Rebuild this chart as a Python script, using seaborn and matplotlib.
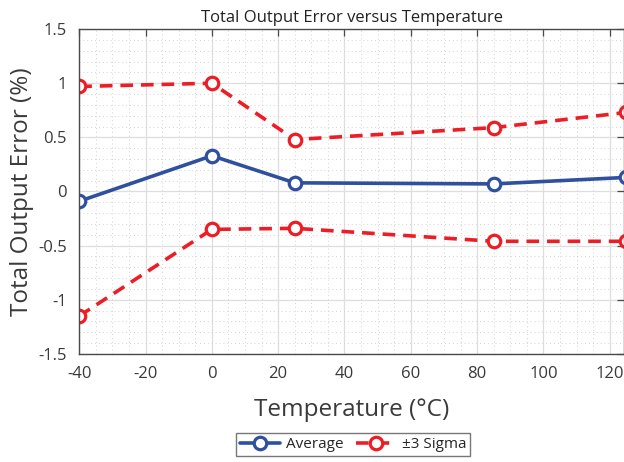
import matplotlib
matplotlib.use("Agg")
import matplotlib.pyplot as plt
import seaborn as sns
from matplotlib.ticker import MultipleLocator

# Data
temperature = [-40, 0, 25, 85, 125]
average = [-0.09, 0.33, 0.08, 0.07, 0.13]
sigma_upper = [0.97, 1.00, 0.48, 0.59, 0.73]
sigma_lower = [-1.15, -0.35, -0.34, -0.46, -0.46]

BLUE = "#2f4f9f"
RED = "#ee1d25"
TEXT = "#3a3a3a"

sns.set_theme(style="white")
plt.rcParams["font.family"] = ["Open Sans", "DejaVu Sans"]
plt.rcParams["axes.unicode_minus"] = False

fig = plt.figure(figsize=(6.24, 4.62), dpi=100)
ax = fig.add_axes([0.127, 0.234, 0.873, 0.703])

marker_kw = dict(marker="o", markersize=9, markerfacecolor="white",
                 markeredgewidth=2.3, linewidth=2.6)

sns.lineplot(x=temperature, y=average, ax=ax, color=BLUE,
             markeredgecolor=BLUE, label="Average", **marker_kw)
sns.lineplot(x=temperature, y=sigma_upper, ax=ax, color=RED,
             markeredgecolor=RED, linestyle=(0, (3.5, 2.2)),
             label="\u00b13 Sigma", **marker_kw)
sns.lineplot(x=temperature, y=sigma_lower, ax=ax, color=RED,
             markeredgecolor=RED, linestyle=(0, (3.5, 2.2)), **marker_kw)

ax.set_xlim(-40, 124.3)
ax.set_ylim(-1.5, 1.5)
ax.xaxis.set_major_locator(MultipleLocator(20))
ax.xaxis.set_minor_locator(MultipleLocator(5))
ax.yaxis.set_minor_locator(MultipleLocator(0.1))
ax.set_yticks([-1.5, -1, -0.5, 0, 0.5, 1, 1.5])
ax.set_yticklabels(["-1.5", "-1", "-0.5", "0", "0.5", "1", "1.5"])

ax.grid(which="major", color="#dedede", linewidth=0.9)
ax.grid(which="minor", color="#d2d2d2", linestyle=(0, (1, 3)), linewidth=0.7)
ax.set_axisbelow(True)

for side in ["left", "bottom", "top", "right"]:
    ax.spines[side].set_color("#4a4a4a")
    ax.spines[side].set_linewidth(1.0)

ax.tick_params(which="major", direction="in", length=5, width=0.9,
               top=True, right=True, colors="#4a4a4a",
               labelsize=12, labelcolor=TEXT, pad=9)
ax.tick_params(which="minor", length=0)

ax.set_title("Total Output Error versus Temperature", fontsize=12,
             color="#222222", pad=5)
ax.set_xlabel("Temperature (\u00b0C)", fontsize=17.5, color=TEXT, labelpad=11)
ax.set_ylabel("Total Output Error (%)", fontsize=17.5, color=TEXT, labelpad=3)

ax.get_legend().remove()
handles, labels = ax.get_legend_handles_labels()
fig.legend(handles, labels, loc="upper center", bbox_to_anchor=(0.566, 0.062),
           ncol=2, frameon=True, fancybox=False, edgecolor="#555555",
           fontsize=11, handlelength=2.6, columnspacing=0.8,
           borderpad=0.25, handletextpad=0.4, borderaxespad=0.0)

fig.savefig("out.png", dpi=100)
